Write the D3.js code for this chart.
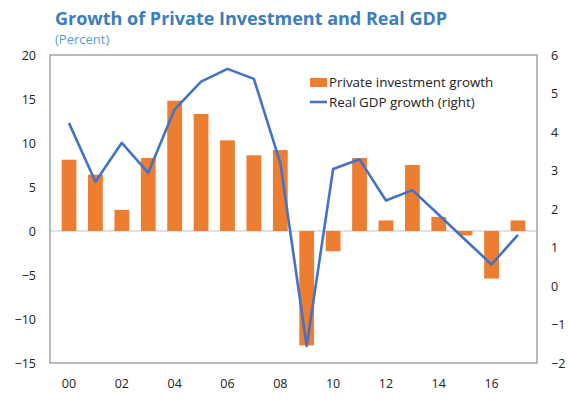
<!DOCTYPE html>
<html><head><meta charset="utf-8">
<script src="https://cdn.jsdelivr.net/npm/d3@7"></script>
<style>body{margin:0;background:#fff}svg{display:block}text{font-family:"Open Sans","Noto Sans",sans-serif}</style>
</head><body><svg id="c" width="568" height="399"></svg>
<script>
const years = ["00","01","02","03","04","05","06","07","08","09","10","11","12","13","14","15","16","17"];
const investment = [8.1,6.4,2.4,8.3,14.8,13.3,10.3,8.6,9.2,-13.0,-2.3,8.3,1.2,7.5,1.6,-0.5,-5.4,1.2];
const gdp = [4.23,2.71,3.72,2.94,4.59,5.31,5.64,5.38,3.2,-1.56,3.04,3.29,2.22,2.49,1.85,1.2,0.56,1.33];
const leftTicks = [-15,-10,-5,0,5,10,15,20];
const rightTicks = [-2,-1,0,1,2,3,4,5,6];
const xLabels = ["00","02","04","06","08","10","12","14","16"];

const svg = d3.select("#c");
const L=50,R=537,T=55,B=363;
const x = d3.scaleBand().domain(years).range([L,R]).padding(0.44);
const yL = d3.scaleLinear().domain([-15,20]).range([B,T]);
const yR = d3.scaleLinear().domain([-2,6]).range([B,T]);

svg.append("text").attr("x",55).attr("y",25).attr("fill","#3b7dbd").attr("font-weight","bold").attr("font-size",18).text("Growth of Private Investment and Real GDP");
svg.append("text").attr("x",55).attr("y",44).attr("fill","#5b9bd5").attr("font-size",13).text("(Percent)");

svg.append("line").attr("x1",L).attr("x2",R).attr("y1",yL(0)).attr("y2",yL(0)).attr("stroke","#d9d9d9").attr("stroke-width",1.5);

svg.selectAll("rect.bar").data(investment).join("rect").attr("class","bar")
  .attr("x",(d,i)=>x(years[i])).attr("width",x.bandwidth())
  .attr("y",d=>yL(Math.max(0,d))).attr("height",d=>Math.abs(yL(d)-yL(0)))
  .attr("fill","#ed7d31");

const line = d3.line().x((d,i)=>x(years[i])+x.bandwidth()/2).y(d=>yR(d));
svg.append("path").datum(gdp).attr("d",line).attr("fill","none").attr("stroke","#4472c4").attr("stroke-width",2.6).attr("stroke-linejoin","round");

svg.append("rect").attr("x",L).attr("y",T).attr("width",R-L).attr("height",B-T).attr("fill","none").attr("stroke","#8c8c8c").attr("stroke-width",1.2);

const lAxis = d3.axisLeft(yL).tickValues(leftTicks).tickSize(0).tickPadding(14);
svg.append("g").attr("transform",`translate(${L},0)`).call(lAxis).call(g=>g.select(".domain").remove())
  .selectAll("text").attr("font-size",12.5).attr("fill","#222").style("font-family","'Open Sans',sans-serif");
const rAxis = d3.axisRight(yR).tickValues(rightTicks).tickSize(0).tickPadding(14);
svg.append("g").attr("transform",`translate(${R},0)`).call(rAxis).call(g=>g.select(".domain").remove())
  .selectAll("text").attr("font-size",12.5).attr("fill","#222").style("font-family","'Open Sans',sans-serif");
const xAxis = d3.axisBottom(x).tickValues(xLabels).tickSize(0).tickPadding(16);
svg.append("g").attr("transform",`translate(0,${B})`).call(xAxis).call(g=>g.select(".domain").remove())
  .selectAll("text").attr("font-size",12.5).attr("fill","#222").style("font-family","'Open Sans',sans-serif");

const lg = svg.append("g");
lg.append("rect").attr("x",310).attr("y",78).attr("width",17).attr("height",9).attr("fill","#ed7d31");
lg.append("text").attr("x",329).attr("y",82.5).attr("dy","0.35em").attr("font-size",13.4).attr("fill","#222").text("Private investment growth");
lg.append("line").attr("x1",310).attr("x2",327).attr("y1",102).attr("y2",102).attr("stroke","#4472c4").attr("stroke-width",2.6);
lg.append("text").attr("x",329).attr("y",102).attr("dy","0.35em").attr("font-size",13.4).attr("fill","#222").text("Real GDP growth (right)");
</script></body></html>
